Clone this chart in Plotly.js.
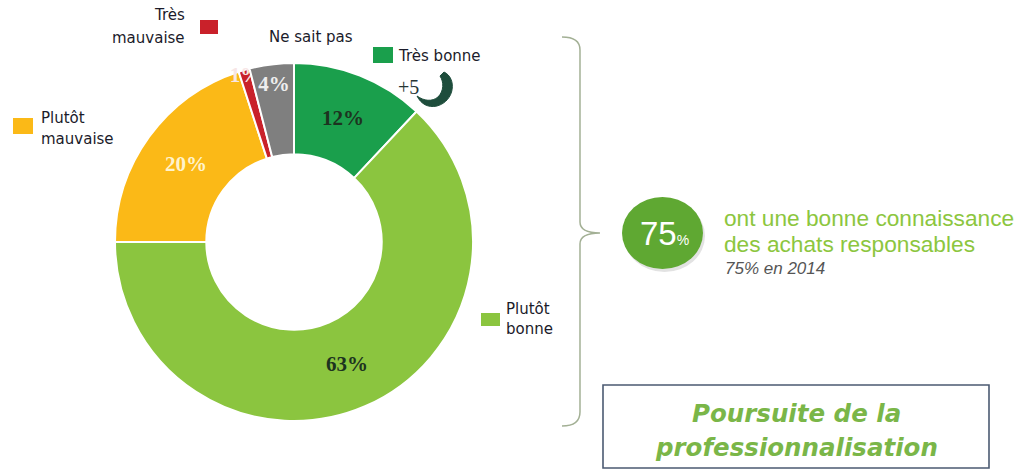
<!DOCTYPE html>
<html>
<head>
<meta charset="utf-8">
<script src="https://cdn.plot.ly/plotly-3.0.1.min.js"></script>
<style>html,body{margin:0;padding:0;background:#fff;}#chart{width:1018px;height:470px;}</style>
</head>
<body>
<div id="chart"></div>
<script>
// ---- Data ----
var categories = ["Très bonne", "Plutôt bonne", "Plutôt mauvaise", "Très mauvaise", "Ne sait pas"];
var values = [12, 63, 20, 1, 4];
var sliceColors = ["#1a9f4c", "#8bc53f", "#fbb917", "#c9212a", "#7f7f7f"];
var labelColors = ["#1d3320", "#1d3320", "#fff3cc", "#f7e6e6", "#eeeeee"];
var goodShare = "75";
var goodText = ["ont une bonne connaissance", "des achats responsables"];
var previousText = "75% en 2014";
var trendText = "+5";
var boxText = ["Poursuite de la", "professionnalisation"];

// ---- Helpers (pixel -> paper) ----
var W = 1018, H = 470;
function px(x){ return x / W; }
function py(y){ return 1 - y / H; }
function pathPx(s){
  return s.replace(/(-?\d+\.?\d*),(-?\d+\.?\d*)/g, function(m, a, b){
    return px(parseFloat(a)).toFixed(5) + "," + py(parseFloat(b)).toFixed(5);
  });
}
function rectPx(x0, y0, x1, y1, fill, line, lw, type){
  return {type: type || "rect", xref: "paper", yref: "paper",
    x0: px(x0), x1: px(x1), y0: py(y1), y1: py(y0),
    fillcolor: fill, line: {color: line || fill, width: lw === undefined ? 0 : lw}, layer: "above"};
}
function ann(text, x, y, xanchor, font){
  return {text: text, x: px(x), y: py(y), xref: "paper", yref: "paper",
    xanchor: xanchor, yanchor: "middle", showarrow: false, font: font};
}

var legFont = {family: "DejaVu Sans", size: 15, color: "#1b1b2a"};
var cx = 294, cy = 242, R = 179;

var trace = {
  type: "pie",
  labels: categories,
  values: values,
  sort: false,
  direction: "clockwise",
  rotation: 0,
  hole: 0.49,
  marker: {colors: sliceColors, line: {color: "#ffffff", width: 2}},
  texttemplate: "%{value}%",
  textposition: "inside",
  insidetextorientation: "horizontal",
  textfont: {family: "Liberation Serif", size: 21, color: labelColors, weight: "bold"},
  domain: {x: [px(cx - R), px(cx + R)], y: [py(cy + R), py(cy - R)]},
  showlegend: false,
  hoverinfo: "label+percent"
};

var shapes = [
  // legend markers
  rectPx(200, 20, 218, 34, sliceColors[3]),
  rectPx(373, 47, 393, 63, sliceColors[0]),
  rectPx(13, 118, 33, 134, sliceColors[2]),
  rectPx(481, 313, 500, 326, sliceColors[1]),
  // trend arrow (hook shape)
  {type: "path", xref: "paper", yref: "paper",
    path: pathPx("M 444,72 C 457,78 455,101 437,106 C 428,108 421,104 417,96 C 424,101 432,102 438,97 C 444,91 444,82 440,76 Z"),
    fillcolor: "#1e4d3c", line: {color: "#1e4d3c", width: 1}, layer: "above"},
  // brace
  {type: "path", xref: "paper", yref: "paper",
    path: pathPx("M 562,37 Q 580,37 580,50 L 580,222 Q 580,233 600,233 Q 580,233 580,244 L 580,412 Q 580,426 562,426"),
    line: {color: "#a3b095", width: 1.5}, layer: "above"},
  // oval shadow + oval
  rectPx(624, 200, 705, 272, "rgba(140,140,140,0.25)", "rgba(0,0,0,0)", 0, "circle"),
  rectPx(622, 197, 703, 269, "#5fa832", "#5fa832", 0, "circle"),
  // box
  rectPx(603, 385, 989, 468, "rgba(0,0,0,0)", "#4b5a72", 1.6)
];

var annotations = [
  ann("Très", 187, 15, "right", legFont),
  ann("mauvaise", 187, 38, "right", legFont),
  ann("Ne sait pas", 267, 37, "left", legFont),
  ann("Très bonne", 396, 56, "left", legFont),
  ann(trendText, 396, 87, "left", {family: "Liberation Serif", size: 20, color: "#253535"}),
  ann("Plutôt", 39, 118, "left", legFont),
  ann("mauvaise", 39, 139, "left", legFont),
  ann("Plutôt", 504, 309, "left", legFont),
  ann("bonne", 504, 329, "left", legFont),
  ann(goodShare + "<span style='font-size:14px'>%</span>", 664, 234, "center",
    {family: "Liberation Sans", size: 33, color: "#ffffff"}),
  ann(goodText[0], 722, 218, "left", {family: "Liberation Sans", size: 22.7, color: "#8cc63e"}),
  ann(goodText[1], 722, 244, "left", {family: "Liberation Sans", size: 22.7, color: "#8cc63e"}),
  ann("<i>" + previousText + "</i>", 723, 268, "left", {family: "Liberation Sans", size: 17, color: "#555555"}),
  ann("<b><i>" + boxText[0] + "</i></b>", 796, 413, "center", {family: "DejaVu Sans", size: 24.5, color: "#7ab648"}),
  ann("<b><i>" + boxText[1] + "</i></b>", 796, 447, "center", {family: "DejaVu Sans", size: 24.5, color: "#7ab648"})
];

var layout = {
  width: W, height: H,
  margin: {l: 0, r: 0, t: 0, b: 0},
  paper_bgcolor: "#ffffff",
  showlegend: false,
  uniformtext: {minsize: 21, mode: "show"},
  shapes: shapes,
  annotations: annotations
};

Plotly.newPlot("chart", [trace], layout, {displayModeBar: false, staticPlot: true});
</script>
</body>
</html>
